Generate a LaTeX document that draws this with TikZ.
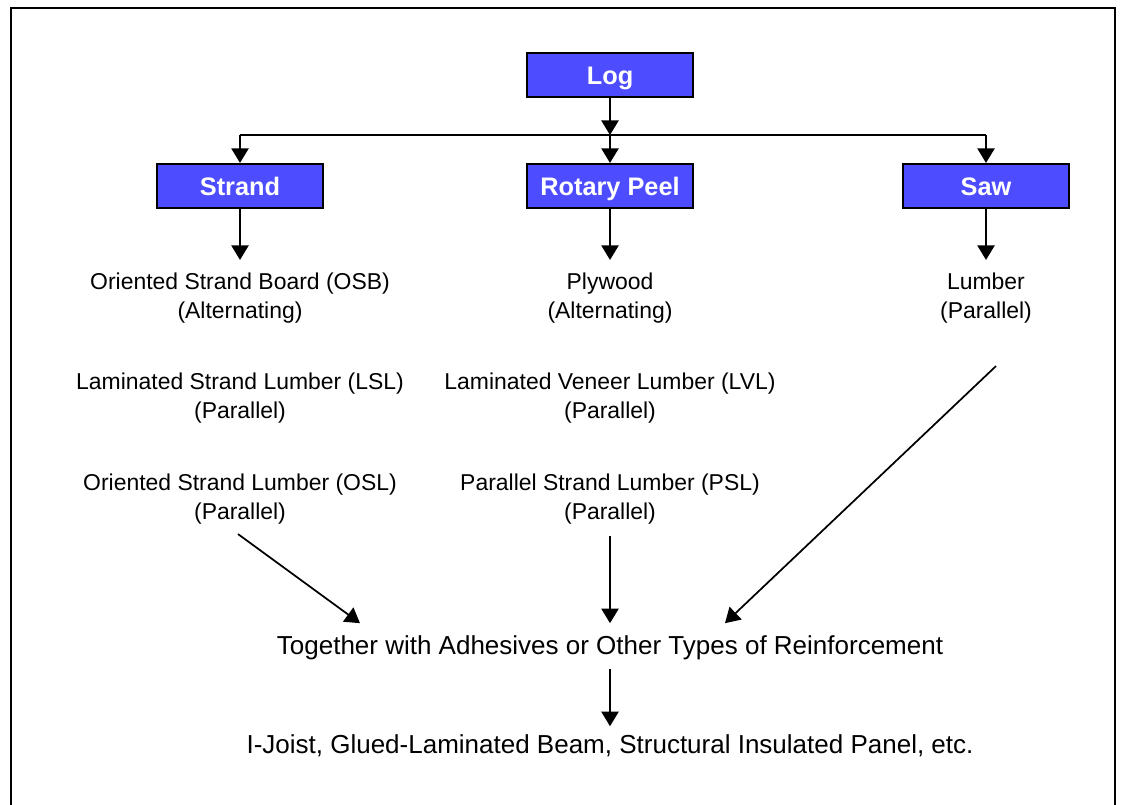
\documentclass[tikz,border=0pt]{standalone}
\usepackage{fontspec}
\setmainfont{Liberation Sans}
\usetikzlibrary{arrows.meta,calc,positioning}
\definecolor{BoxBlue}{RGB}{77,77,255}
\tikzset{
    block/.style = {draw, rectangle, line width=1.6pt, fill=BoxBlue,
        text=white, font=\fontsize{19}{22}\selectfont\bfseries,
        text height=16pt, text depth=2pt,
        minimum height=33pt,
        minimum width=125pt},
    product/.style = {align=center, font=\fontsize{17.2}{22}\selectfont},
    result/.style = {align=center, font=\fontsize{19.5}{24}\selectfont},
    arrow/.style={draw, line width=1.3pt, -{Triangle[width=13pt,length=11pt]}}
}

\begin{document}
\begin{tikzpicture}[x=0.75pt,y=-0.75pt]
                \useasboundingbox (0,0) rectangle (1121,804);
                \draw[line width=1.5pt] (11,830) -- (11,8) -- (1115,8) -- (1115,830);
                % process boxes
                \node [block] (log) at (610,75) {Log};
                \node [block] (strand) at (240,186) {Strand};
                \node [block] (peel) at (610,186) {Rotary Peel};
                \node [block] (saw) at (986,186) {Saw};
                \coordinate (split) at (610,135);
                % products
                \node [product] (osb) at (240,298) {Oriented Strand Board (OSB)\\(Alternating)};
                \node [product] (lsl) at (240,398) {Laminated Strand Lumber (LSL)\\(Parallel)};
                \node [product] (osl) at (240,499) {Oriented Strand Lumber (OSL)\\(Parallel)};
                \node [product] (plywood) at (610,298) {Plywood\\(Alternating)};
                \node [product] (lvl) at (610,398) {Laminated Veneer Lumber (LVL)\\(Parallel)};
                \node [product] (psl) at (610,499) {Parallel Strand Lumber (PSL)\\(Parallel)};
                \node [product] (lumber) at (986,298) {Lumber\\(Parallel)};
                \node [result] (together) at (610,648) {Together with Adhesives or Other Types of Reinforcement};
                \node [result] (final) at (610,746) {I-Joist, Glued-Laminated Beam, Structural Insulated Panel, etc.};
                \coordinate (togleft) at ($(together.north)+(-250,-8)$);
                \coordinate (togright) at ($(together.north)+(115,-8)$);
                \coordinate (oslfoot) at ($(osl.south)+(-2,5)$);
                \coordinate (lumfoot) at ($(lumber.south)+(10,38)$);
                % connectors
                \draw [arrow] (log) -- (log |- split);
                \draw [line width=1.3pt] (strand.north |- split) -- (saw.north |- split);
                \draw [arrow] (strand.north |- split) -- (strand);
                \draw [arrow] (split) -- (peel);
                \draw [arrow] (saw.north |- split) -- (saw);
                \draw [arrow, shorten >=6pt] (strand) -- (osb);
                \draw [arrow, shorten >=6pt] (peel) -- (plywood);
                \draw [arrow, shorten >=6pt] (saw) -- (lumber);
                \draw [arrow] (oslfoot) -- (togleft);
                \draw [arrow, shorten <=5pt, shorten >=6pt] (psl) -- (together);
                \draw [arrow] (lumfoot) -- (togright);
                \draw [arrow, shorten <=3pt, shorten >=3pt] (together) -- (final);
            \end{tikzpicture}
\end{document}
